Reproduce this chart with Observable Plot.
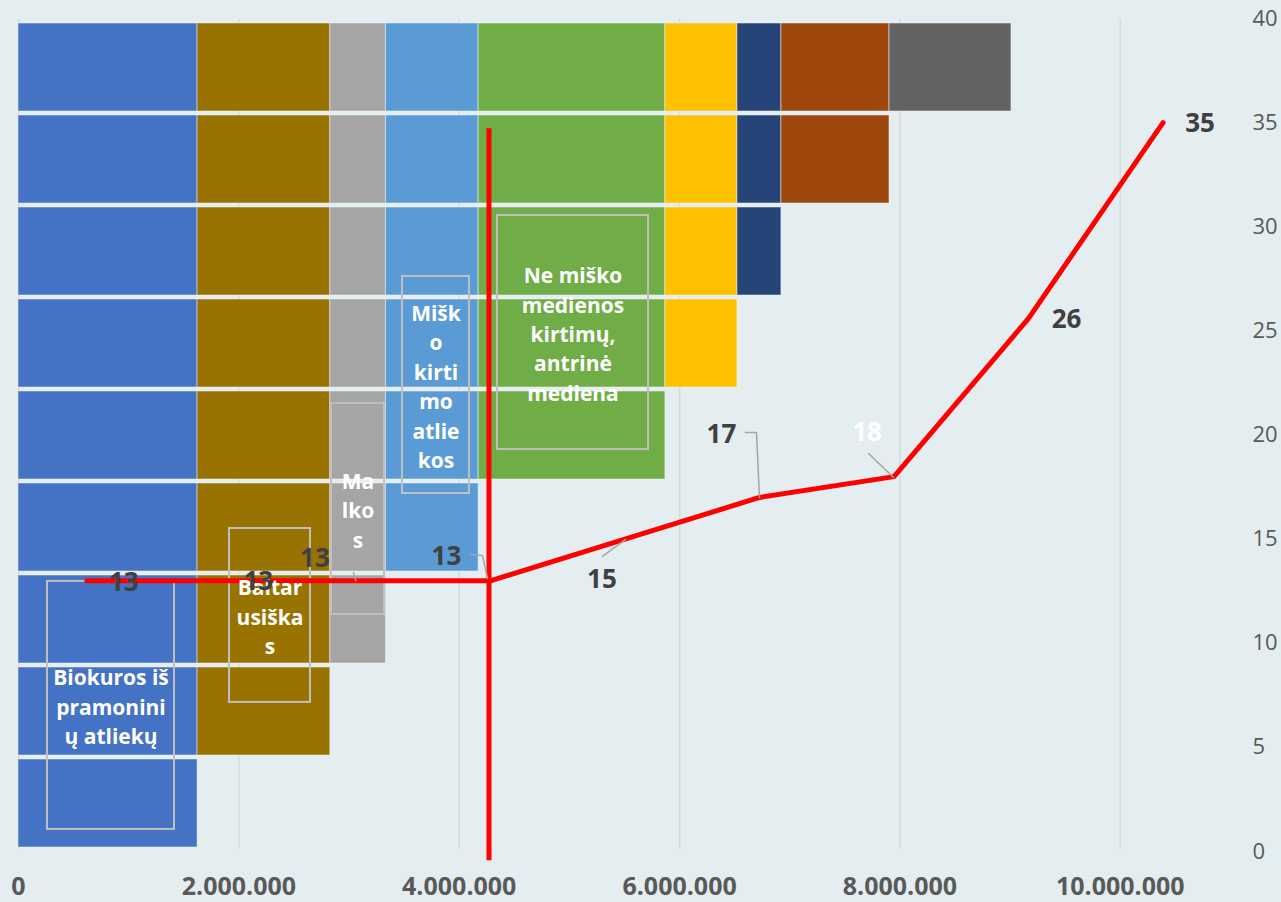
<!DOCTYPE html>
<html><head><meta charset="utf-8">
<script src="https://cdn.jsdelivr.net/npm/d3@7"></script>
<script src="https://cdn.jsdelivr.net/npm/@observablehq/plot@0.6"></script>
<style>
html,body{margin:0;padding:0;background:#E4EDF0;}
#chart{position:relative;width:1281px;height:902px;overflow:hidden;}
#chart svg{position:absolute;left:0;top:0;}
</style></head><body><div id="chart"></div>
<script>
// ---- data ----
const rows = ["1","2","3","4","5","6","7","8","9"];
const series = ["Biokuros iš pramoninių atliekų","Baltarusiškas","Malkos","Miško kirtimo atliekos","Ne miško medienos kirtimų, antrinė mediena","Serija 6","Serija 7","Serija 8","Serija 9"];
const volumes = [1625000, 1205000, 505000, 841000, 1695000, 654000, 399000, 981000, 1107000];
const seriesColors = ["#4472C4","#997300","#A5A5A5","#5B9BD5","#70AD47","#FFC000","#264478","#9E480E","#636363"];
const priceX = [620000, 1841000, 3062000, 4283000, 5504000, 6725000, 7946000, 9167000, 10388000];
const prices = [13, 13, 13, 13, 15, 17, 18, 25.6, 35];
const cutoffX = 4270000;
const cutoffY = [-0.45, 34.7];
const xTicks = [0, 2000000, 4000000, 6000000, 8000000, 10000000];
const yTicks = [0, 5, 10, 15, 20, 25, 30, 35, 40];

// ---- annotations (data units) ----
const boxes = [
  {text: "Biokuros iš\npramonini\nų atliekų", x1: 263000, x2: 1416000, y1: 1.06, y2: 12.97},
  {text: "Baltar\nusiška\ns", x1: 1915000, x2: 2650000, y1: 7.16, y2: 15.51},
  {text: "Ma\nlko\ns", x1: 2841000, x2: 3322000, y1: 11.38, y2: 21.51},
  {text: "Mišk\no\nkirti\nmo\natlie\nkos", x1: 3485000, x2: 4093000, y1: 17.19, y2: 27.61},
  {text: "Ne miško\nmedienos\nkirtimų,\nantrinė\nmediena", x1: 4347000, x2: 5718000, y1: 19.30, y2: 30.54}
];
const leaders = [
  [[3040000, 13.40], [3062000, 13.0]],
  [[4102000, 14.26], [4211000, 14.21], [4257000, 13.11]],
  [[5300000, 14.17], [5509000, 14.98]],
  [[6598000, 20.12], [6698000, 20.12], [6725000, 17.0]],
  [[7715000, 19.11], [7942000, 17.96]]
];
const labelOffsets = [[37,2],[37,1],[-41,-22],[-44,-24],[-23,41],[-38,-63],[-27,-44],[38,1],[37,1]];
const labelColors = ["#404040","#404040","#404040","#404040","#404040","#404040","#FFFFFF","#404040","#404040"];

// ---- build ----
const W = 1281, H = 902;
const margins = {marginLeft: 18, marginRight: 51, marginTop: 18, marginBottom: 51};
const xDomain = [0, 11000000];
const fmt = d3.formatLocale({decimal: ",", thousands: ".", grouping: [3], currency: ["", ""]}).format(",");

const barData = rows.flatMap((r, k) => series.slice(0, k + 1).map((s, j) => ({row: r, series: s, value: volumes[j]})));

const under = Plot.plot({
  width: W, height: H, ...margins,
  style: {background: "transparent", fontFamily: "Open Sans, sans-serif"},
  x: {domain: xDomain, axis: null},
  y: {type: "band", domain: rows.slice().reverse(), range: [16, 853], paddingInner: 0.047, paddingOuter: 0.035, axis: null},
  color: {domain: series, range: seriesColors},
  marks: [
    Plot.gridX(xTicks.slice(1), {stroke: "#D6DADC", strokeOpacity: 1, strokeWidth: 1.5, insetTop: 1, insetBottom: 2}),
    Plot.ruleX([0], {stroke: "#D6DADC", strokeWidth: 1.5, insetTop: 1, insetBottom: 2}),
    Plot.barX(barData, {x: "value", y: "row", fill: "series", stroke: "#F4F8F9", strokeWidth: 1, strokeOpacity: 0.5})
  ]
});

const pts = priceX.map((x, i) => ({x, y: prices[i]}));

const over = Plot.plot({
  width: W, height: H, ...margins,
  style: {background: "transparent", color: "#595959", fontFamily: "Open Sans, sans-serif"},
  x: {domain: xDomain},
  y: {domain: [0, 40]},
  marks: [
    Plot.rect(boxes, {x1: "x1", x2: "x2", y1: "y1", y2: "y2", fill: "none", stroke: "#BFBFBF", strokeWidth: 2}),
    Plot.ruleX([cutoffX], {y1: cutoffY[0], y2: cutoffY[1], stroke: "#FF0000", strokeWidth: 5}),
    Plot.line(pts, {x: "x", y: "y", stroke: "#FF0000", strokeWidth: 5, strokeLinecap: "round", strokeLinejoin: "round"}),
    Plot.text(boxes, {x: d => (d.x1 + d.x2) / 2, y: d => (d.y1 + d.y2) / 2, text: "text", fill: "white", fontWeight: "bold", fontSize: 21, lineHeight: 1.4}),
    ...leaders.map(L => Plot.line(L, {x: d => d[0], y: d => d[1], stroke: "#A6A6A6", strokeWidth: 1.5})),
    ...pts.map((p, i) => Plot.text([p], {x: "x", y: "y", text: d => d3.format(".0f")(d.y), dx: labelOffsets[i][0], dy: labelOffsets[i][1], fill: labelColors[i], fontWeight: "bold", fontSize: 26})),
    Plot.axisX({ticks: xTicks, tickFormat: fmt, tickSize: 0, tickPadding: 26, fontSize: 25, fontWeight: "bold", label: null}),
    Plot.axisY({anchor: "right", ticks: yTicks, tickSize: 0, tickPadding: 22, fontSize: 22, label: null})
  ]
});

const el = document.getElementById("chart");
el.appendChild(under);
el.appendChild(over);
</script></body></html>
